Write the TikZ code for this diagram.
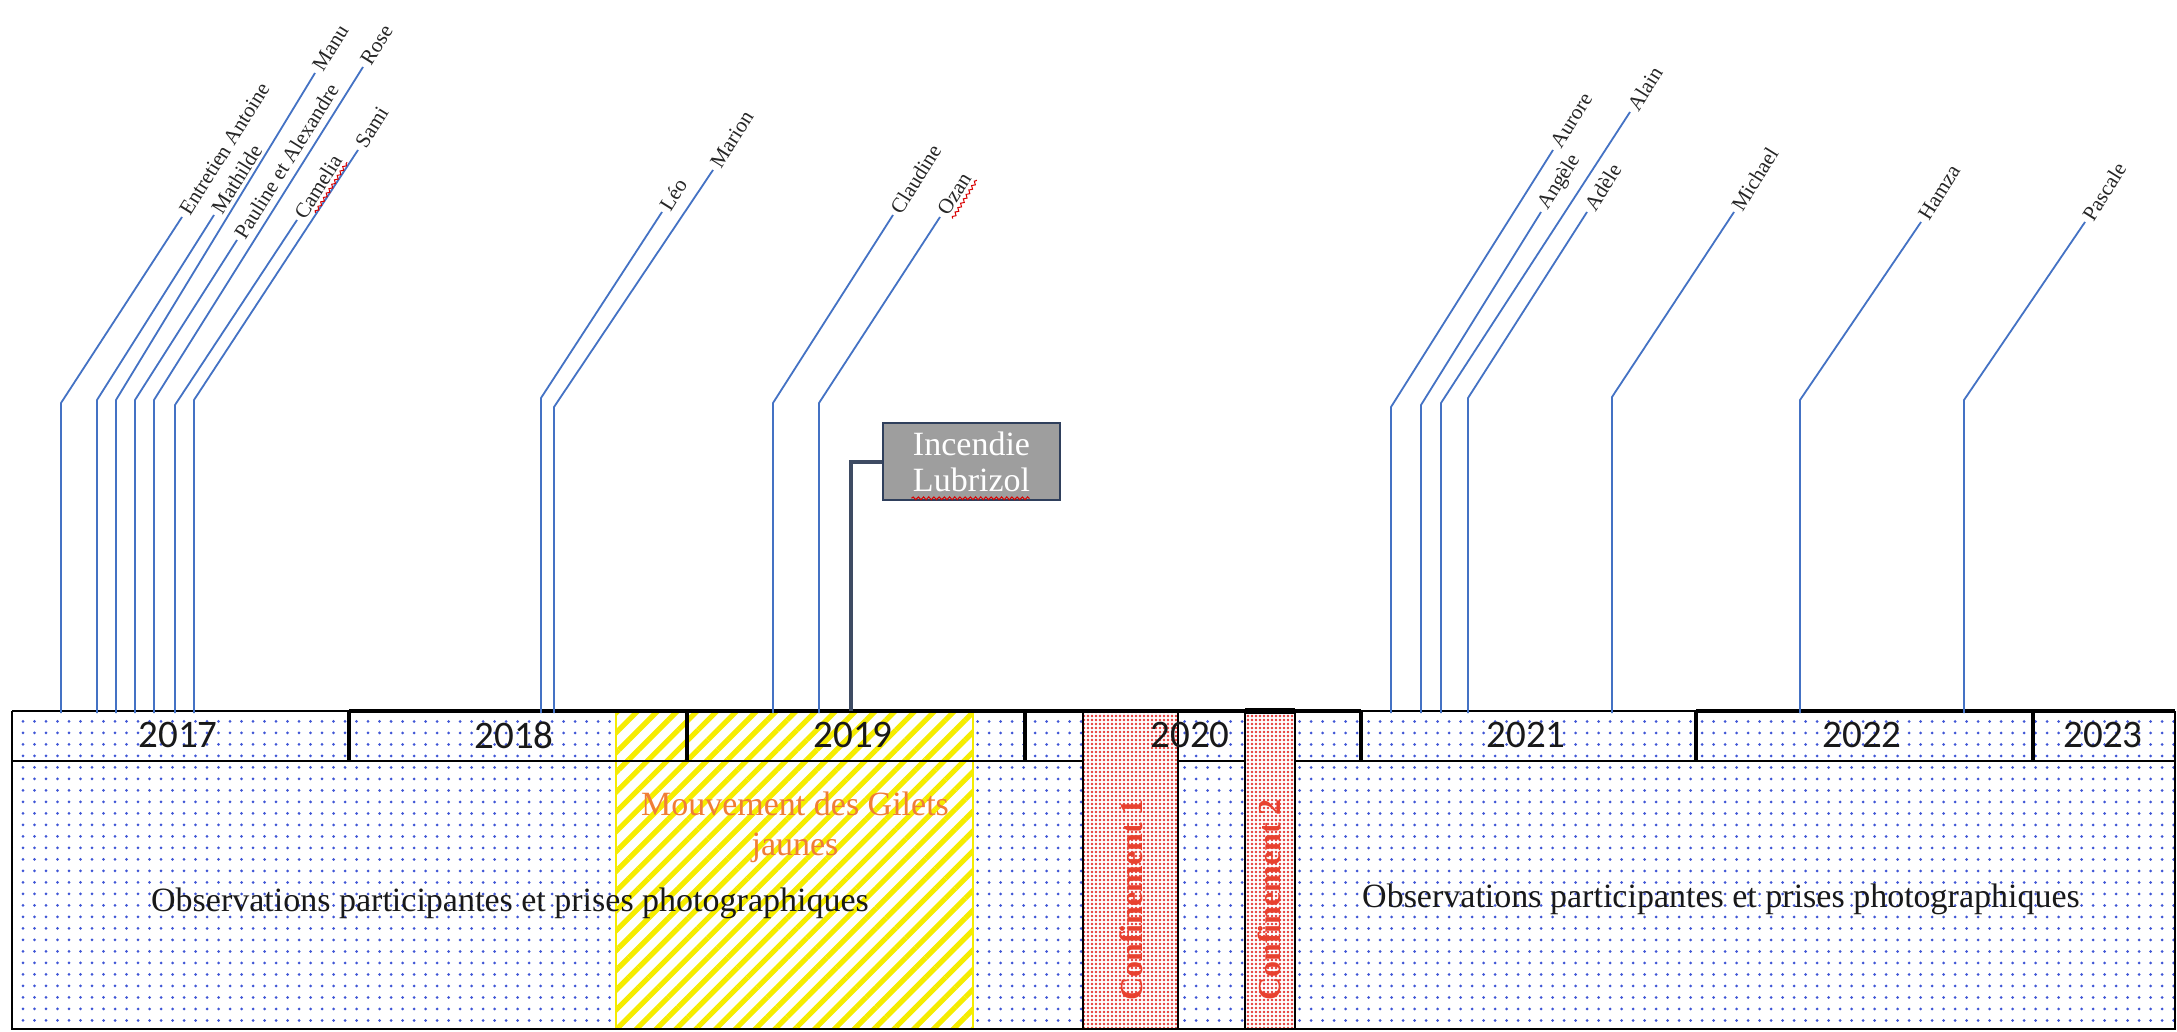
\documentclass[tikz,border=0pt]{standalone}
\usepackage{fontspec}
\setmainfont{Liberation Serif}
\newfontfamily\yearfont{Carlito}
\usetikzlibrary{patterns.meta,decorations.pathmorphing,calc}
\definecolor{lblue}{HTML}{4472C4}
\definecolor{dotblue}{HTML}{3F55D6}
\definecolor{dotred}{HTML}{E53935}
\definecolor{hatchyel}{HTML}{F5EC00}
\definecolor{orangetxt}{HTML}{F07D36}
\definecolor{confred}{HTML}{E8412F}
\definecolor{boxgray}{HTML}{9E9E9E}
\definecolor{boxedge}{HTML}{2F3F5C}
\definecolor{connc}{HTML}{3E4B63}
\tikzset{
  thinrule/.style={line width=1pt, black},
  thickrule/.style={line width=2pt, black},
  divider/.style={line width=1.8pt, black},
  dotarea/.style={fill=white, postaction={pattern={Dots[distance=5.75pt, radius=0.75pt]}, pattern color=dotblue}},
  yelarea/.style={fill=white, draw=hatchyel, line width=0.8pt, postaction={pattern={Lines[angle=45, distance=7pt, line width=2.6pt]}, pattern color=hatchyel}},
  redarea/.style={fill=white, postaction={pattern={Dots[distance=2pt, radius=0.65pt]}, pattern color=dotred}},
  yearlbl/.style={font=\yearfont\fontsize{19.5pt}{22pt}\selectfont, text=black!90, inner sep=0pt},
  obs/.style={font=\fontsize{17pt}{20pt}\selectfont, text=black!90, inner sep=0pt},
  mvt/.style={font=\fontsize{17pt}{20pt}\selectfont, text=orangetxt, align=center, inner sep=0pt},
  conflbl/.style={font=\bfseries\fontsize{16pt}{18pt}\selectfont, text=confred, inner sep=0pt, rotate=90},
  plbl/.style={font=\fontsize{10.6pt}{12pt}\selectfont, text=black!85, inner sep=2pt, anchor=west, rotate=58},
  pline/.style={draw=lblue, line width=0.9pt},
  lubbox/.style={fill=boxgray, draw=boxedge, line width=1.3pt, minimum width=88.5pt, minimum height=38.5pt, inner sep=0pt, text=white, align=center, font=\fontsize{17pt}{18pt}\selectfont},
  lubconn/.style={draw=connc, line width=2pt},
  squig/.style={draw=red!85!black, line width=0.5pt, decorate, decoration={snake, amplitude=0.7pt, segment length=2.6pt}}
}
\begin{document}
\begin{tikzpicture}[x=0.5pt,y=-0.5pt]
\useasboundingbox[fill=white] (0,0) rectangle (2177,1032);
% background areas
\path[dotarea] (12,711) rectangle (2175,1029);
\path[yelarea] (616,711) rectangle (973,1029);
\path[redarea] (1083,711) rectangle (1178,1029);
\path[redarea] (1245,711) rectangle (1295,1029);
% table rules
\draw[thinrule] (12,711) -- (12,1029) -- (2175,1029) -- (2175,711);
\draw[thinrule] (12,711) -- (349,711);
\draw[thinrule] (1361,711) -- (1696,711);
\draw[thickrule] (349,711) -- (1361,711);
\draw[thickrule] (1696,711) -- (2175,711);
\draw[line width=3pt] (1245,711) -- (1295,711);
\draw[thinrule] (12,761) -- (1083,761);
\draw[thinrule] (1178,761) -- (1245,761);
\draw[thinrule] (1295,761) -- (2175,761);
\foreach \dx in {349,687,1025,1361,1696,2033}{
  \draw[divider] (\dx,711) -- (\dx,761);
}
\foreach \dx in {1083,1178,1245,1295}{
  \draw[line width=1.1pt] (\dx,711) -- (\dx,1029);
}
% year labels
\node[yearlbl] (y2017) at (178,735) {2017};
\node[yearlbl] (y2018) at (514,735) {2018};
\node[yearlbl] (y2019) at (853,735) {2019};
\node[yearlbl] (y2020) at (1190,735) {2020};
\node[yearlbl] (y2021) at (1526,735) {2021};
\node[yearlbl] (y2022) at (1862,735) {2022};
\node[yearlbl] (y2023) at (2103,735) {2023};
% texts in the lower row
\node[obs] (obsL) at (510,903) {Observations participantes et prises photographiques};
\node[obs] (obsR) at (1721,899) {Observations participantes et prises photographiques};
\node[mvt] (gj) at (795,827) {Mouvement des Gilets\\jaunes};
\node[conflbl] (c1) at (1131,900) {Confinement 1};
\node[conflbl] (c2) at (1269,900) {Confinement 2};
% participants
\foreach \x/\ky/\ex/\ey/\lab [count=\i] in {
  61/403/182/217/Entretien Antoine,
  97/400/214/215/Mathilde,
  116/400/315/73/Manu,
  135/400/237/240/Pauline et Alexandre,
  154/400/363/67/Rose,
  175/405/297/220/Camelia,
  194/400/358/150/Sami,
  541/398/662/212/Léo,
  554/407/713/170/Marion,
  773/403/893/215/Claudine,
  819/403/940/217/Ozan,
  1391/407/1553/150/Aurore,
  1421/405/1541/212/Angèle,
  1441/403/1630/112/Alain,
  1468/398/1587/212/Adèle,
  1612/397/1734/212/Michael,
  1800/400/1921/222/Hamza,
  1964/400/2085/222/Pascale}{
  \coordinate (b\i) at (\x,713);
  \coordinate (k\i) at (\x,\ky);
  \node[plbl] (p\i) at (\ex,\ey) {\lab};
  \draw[pline] (b\i) -- (k\i) -- (p\i.west);
}
\draw[squig] ($(p6.south west)!0.2!(p6.south east)$) -- ($(p6.south west)!0.95!(p6.south east)$);
\draw[squig] ($(p11.south west)!0.1!(p11.south east)$) -- ($(p11.south west)!0.95!(p11.south east)$);
% Lubrizol
\node[lubbox] (lub) at (971.5,461.5) {Incendie\\Lubrizol};
\coordinate (lubfoot) at (851,711);
\draw[lubconn] (lub.west) -| (lubfoot);
\draw[squig] ($(lub.south)+(-60,-3)$) -- ($(lub.south)+(58,-3)$);
\end{tikzpicture}
\end{document}
